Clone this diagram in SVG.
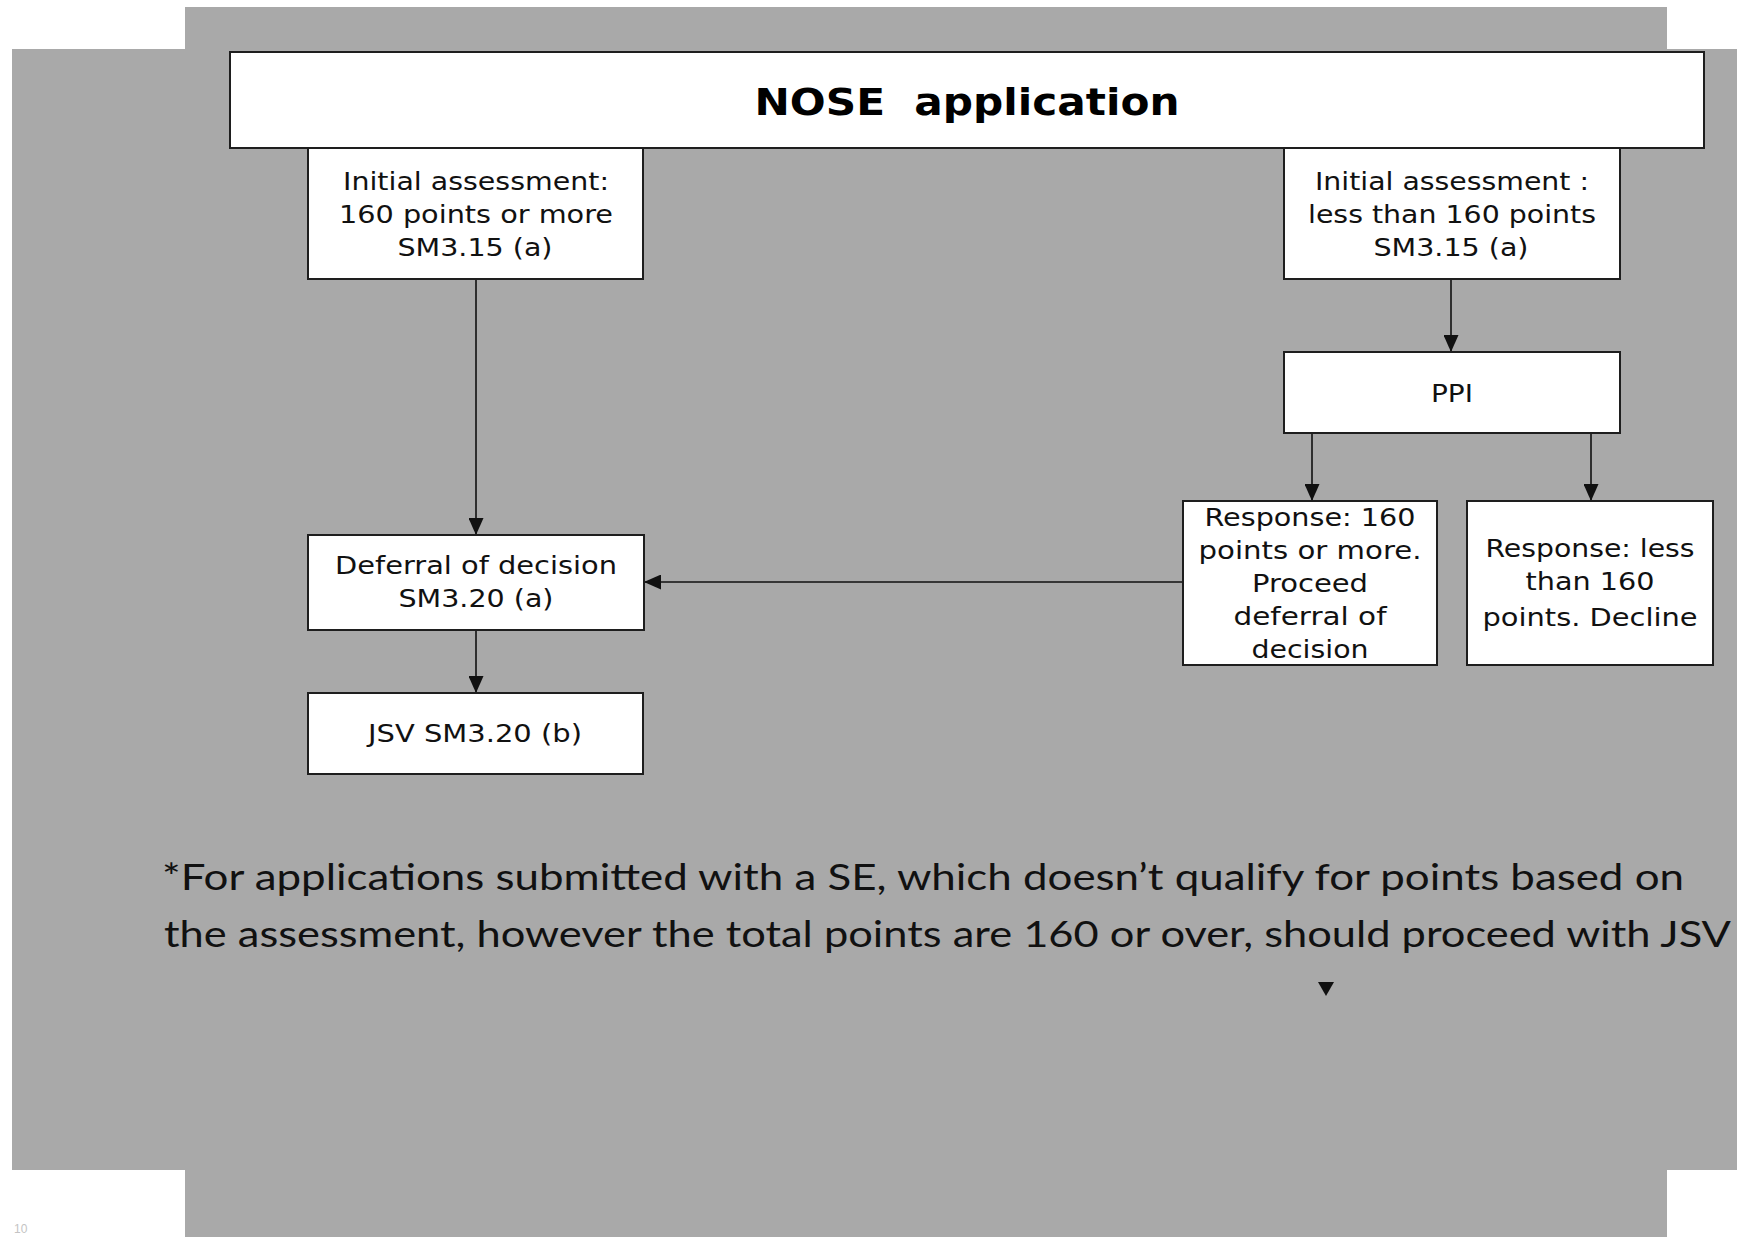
<svg xmlns="http://www.w3.org/2000/svg" width="1737" height="1237" viewBox="0 0 1737 1237">
  <defs>
    <style>
      .bg { fill: #a9a9a9; }
      .box { fill: #ffffff; stroke: #1e1e1e; stroke-width: 2; }
      .lbl { font-family: "DejaVu Sans", Verdana, sans-serif; font-size: 24.5px; fill: #111111; text-anchor: middle; }
      .title { font-family: "DejaVu Sans", Verdana, sans-serif; font-size: 38px; font-weight: bold; fill: #000000; text-anchor: middle; white-space: pre; }
      .note { font-family: Lato, "Open Sans", sans-serif; font-size: 36px; fill: #111111; }
      .edge { fill: none; stroke: #111111; stroke-width: 1.6; }
    </style>
    <marker id="arrow" viewBox="0 0 17 15" refX="17" refY="7.5" markerWidth="17" markerHeight="15" markerUnits="userSpaceOnUse" orient="auto">
      <path d="M0,0 L17,7.5 L0,15 Z" fill="#111111"/>
    </marker>
  </defs>

  <!-- page background: white with a grey cross-shaped slide area -->
  <rect x="0" y="0" width="1737" height="1237" fill="#ffffff"/>
  <rect class="bg" x="185" y="7" width="1482" height="1230"/>
  <rect class="bg" x="12" y="49" width="1725" height="1121"/>
  <text x="14" y="1233" style="font-family: 'Liberation Sans', sans-serif; font-size: 12px; fill: #c4c4c4;">10</text>

  <g id="connectors">
    <path class="edge" d="M476 279 L476 535" marker-end="url(#arrow)"/>
    <path class="edge" d="M476 630 L476 693" marker-end="url(#arrow)"/>
    <path class="edge" d="M1451 279 L1451 352" marker-end="url(#arrow)"/>
    <path class="edge" d="M1312 433 L1312 501" marker-end="url(#arrow)"/>
    <path class="edge" d="M1591 433 L1591 501" marker-end="url(#arrow)"/>
    <path class="edge" d="M1183 582 L644 582" marker-end="url(#arrow)"/>
    <polygon points="1318,982 1334,982 1326,996" fill="#111111"/>
  </g>

  <g id="nose-application">
    <rect class="box" x="230" y="52" width="1474" height="96"/>
    <text class="title" x="967" y="115" textLength="425" lengthAdjust="spacingAndGlyphs" xml:space="preserve">NOSE&#160; application</text>
  </g>

  <g id="initial-160-or-more">
    <rect class="box" x="308" y="148" width="335" height="131"/>
    <text class="lbl" x="476" y="190" textLength="266" lengthAdjust="spacingAndGlyphs">Initial assessment:</text>
    <text class="lbl" x="476" y="223" textLength="274" lengthAdjust="spacingAndGlyphs">160 points or more</text>
    <text class="lbl" x="475" y="256" textLength="155" lengthAdjust="spacingAndGlyphs">SM3.15 (a)</text>
  </g>

  <g id="initial-less-than-160">
    <rect class="box" x="1284" y="148" width="336" height="131"/>
    <text class="lbl" x="1452" y="190" textLength="274" lengthAdjust="spacingAndGlyphs">Initial assessment :</text>
    <text class="lbl" x="1452" y="223" textLength="288" lengthAdjust="spacingAndGlyphs">less than 160 points</text>
    <text class="lbl" x="1451" y="256" textLength="155" lengthAdjust="spacingAndGlyphs">SM3.15 (a)</text>
  </g>

  <g id="ppi">
    <rect class="box" x="1284" y="352" width="336" height="81"/>
    <text class="lbl" x="1452" y="402" textLength="42" lengthAdjust="spacingAndGlyphs">PPI</text>
  </g>

  <g id="response-160-or-more">
    <rect class="box" x="1183" y="501" width="254" height="164"/>
    <text class="lbl" x="1310" y="526" textLength="211" lengthAdjust="spacingAndGlyphs">Response: 160</text>
    <text class="lbl" x="1310" y="559" textLength="223" lengthAdjust="spacingAndGlyphs">points or more.</text>
    <text class="lbl" x="1310" y="592" textLength="116" lengthAdjust="spacingAndGlyphs">Proceed</text>
    <text class="lbl" x="1310" y="625" textLength="153" lengthAdjust="spacingAndGlyphs">deferral of</text>
    <text class="lbl" x="1310" y="658" textLength="117" lengthAdjust="spacingAndGlyphs">decision</text>
  </g>

  <g id="response-less-than-160">
    <rect class="box" x="1467" y="501" width="246" height="164"/>
    <text class="lbl" x="1590" y="557" textLength="209" lengthAdjust="spacingAndGlyphs">Response: less</text>
    <text class="lbl" x="1590" y="590" textLength="129" lengthAdjust="spacingAndGlyphs">than 160</text>
    <text class="lbl" x="1590" y="626" textLength="215" lengthAdjust="spacingAndGlyphs">points. Decline</text>
  </g>

  <g id="deferral-of-decision">
    <rect class="box" x="308" y="535" width="336" height="95"/>
    <text class="lbl" x="476" y="574" textLength="282" lengthAdjust="spacingAndGlyphs">Deferral of decision</text>
    <text class="lbl" x="476" y="607" textLength="155" lengthAdjust="spacingAndGlyphs">SM3.20 (a)</text>
  </g>

  <g id="jsv">
    <rect class="box" x="308" y="693" width="335" height="81"/>
    <text class="lbl" x="475" y="742" textLength="214" lengthAdjust="spacingAndGlyphs">JSV SM3.20 (b)</text>
  </g>

  <g id="footnote">
    <text class="note" x="162" y="890" textLength="1522" lengthAdjust="spacingAndGlyphs">*For applications submitted with a SE, which doesn’t qualify for points based on</text>
    <text class="note" x="164" y="947" textLength="1567" lengthAdjust="spacingAndGlyphs">the assessment, however the total points are 160 or over, should proceed with JSV</text>
  </g>
</svg>
